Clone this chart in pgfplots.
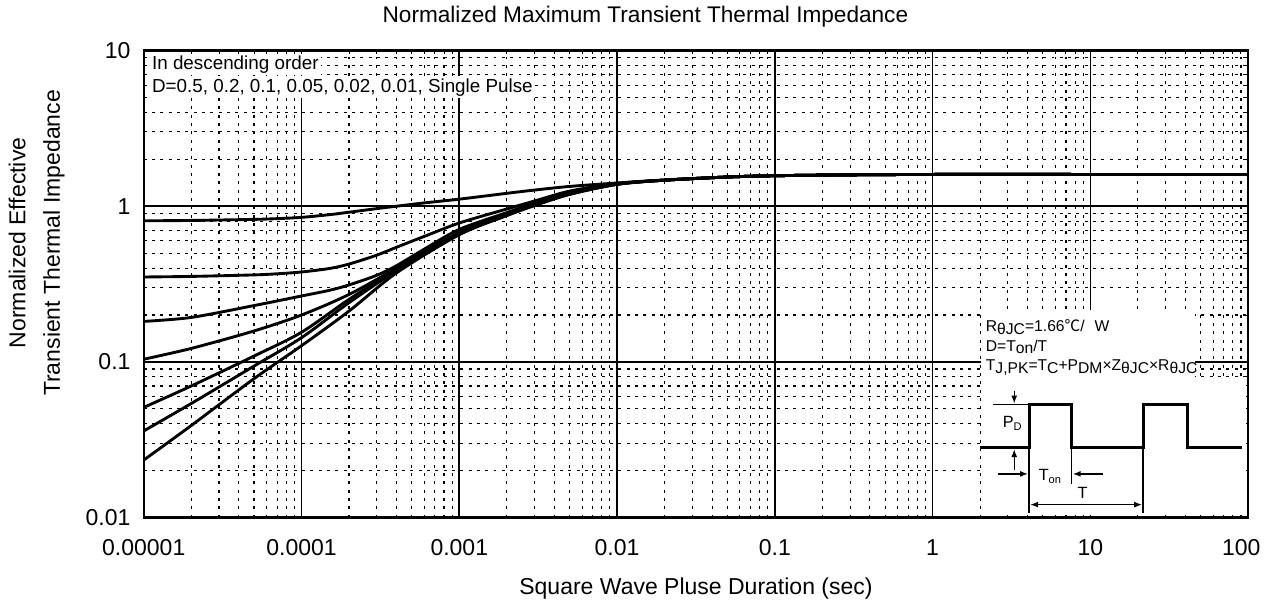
\documentclass[border=0pt]{standalone}
\usepackage{pgfplots}
\pgfplotsset{compat=1.18}
\usepackage{graphicx}
\usepackage{fontspec}
\setmainfont{Liberation Sans}
\newfontfamily\cjk{Noto Sans CJK SC}
\usetikzlibrary{arrows.meta}
\newcommand{\sx}[1]{\raisebox{-1.3pt}{#1}}
\begin{document}
\begin{tikzpicture}
\begin{scope}[x=0.5pt,y=-0.5pt]
\useasboundingbox (0,0) rectangle (1274,614);
\end{scope}
\begin{axis}[
  at={(72.5pt,-261pt)}, anchor=south west,
  scale only axis, width=557pt, height=235.5pt,
  xmode=log, ymode=log,
  xmin=1e-5, xmax=100, ymin=0.01, ymax=10,
  xtick={1e-5,1e-4,1e-3,1e-2,1e-1,1,10,100},
  xticklabels={0.00001,0.0001,0.001,0.01,0.1,1,10,{\kern-3.5pt 100\kern3.5pt}},
  ytick={0.01,0.1,1,10},
  yticklabels={0.01,0.1,1,10},
  minor xtick={2e-5,3e-5,4e-5,5e-5,6e-5,7e-5,8e-5,9e-5,
    2e-4,3e-4,4e-4,5e-4,6e-4,7e-4,8e-4,9e-4,
    0.002,0.003,0.004,0.005,0.006,0.007,0.008,0.009,
    0.02,0.03,0.04,0.05,0.06,0.07,0.08,0.09,
    0.2,0.3,0.4,0.5,0.6,0.7,0.8,0.9,
    2,3,4,5,6,7,8,9,20,30,40,50,60,70,80,90},
  minor ytick={0.02,0.03,0.04,0.05,0.06,0.07,0.08,0.09,
    0.2,0.3,0.4,0.5,0.6,0.7,0.8,0.9,2,3,4,5,6,7,8,9},
  grid=both,
  major grid style={black, line width=0.85pt},
  minor grid style={black, line width=0.55pt, dash pattern=on 1.5pt off 2.7pt},
  axis line style={black, line width=1.2pt},
  tick style={black, line width=0.5pt},
  major tick length=2.5pt, minor tick length=1.5pt,
  tick align=inside,
  ticklabel style={font=\fontsize{11.6}{13}\selectfont},
  xticklabel style={anchor=center, yshift=-15pt},
  yticklabel style={anchor=east, inner sep=0pt, xshift=-6.5pt},
  zth/.style={black, solid, line width=1.45pt, smooth, no markers},
]
% Single pulse
\addplot[zth] coordinates {(1e-5,0.0234) (2e-5,0.039) (5e-5,0.078) (1e-4,0.127) (2e-4,0.212) (4e-4,0.373) (1e-3,0.656) (2e-3,0.87) (3e-3,1.01) (5e-3,1.19) (1e-2,1.38) (2e-2,1.47) (5e-2,1.54) (0.1,1.57) (0.3,1.59) (1,1.6) (10,1.6) (100,1.6)};
% D=0.01
\addplot[zth] coordinates {(1e-5,0.036) (2e-5,0.054) (5e-5,0.094) (1e-4,0.143) (2e-4,0.24) (4e-4,0.385) (1e-3,0.662) (2e-3,0.875) (3e-3,1.015) (5e-3,1.195) (1e-2,1.385) (2e-2,1.47) (5e-2,1.54) (0.1,1.57) (0.3,1.59) (1,1.6) (10,1.6) (100,1.6)};
% D=0.02
\addplot[zth] coordinates {(1e-5,0.051) (2e-5,0.07) (5e-5,0.109) (1e-4,0.155) (2e-4,0.252) (4e-4,0.39) (1e-3,0.667) (2e-3,0.88) (3e-3,1.02) (5e-3,1.2) (1e-2,1.385) (2e-2,1.47) (5e-2,1.54) (0.1,1.57) (0.3,1.59) (1,1.6) (10,1.6) (100,1.6)};
% D=0.05
\addplot[zth] coordinates {(1e-5,0.104) (2e-5,0.122) (5e-5,0.158) (1e-4,0.2) (2e-4,0.271) (4e-4,0.40) (1e-3,0.68) (2e-3,0.89) (3e-3,1.03) (5e-3,1.21) (1e-2,1.39) (2e-2,1.47) (5e-2,1.54) (0.1,1.57) (0.3,1.59) (1,1.6) (10,1.6) (100,1.6)};
% D=0.1
\addplot[zth] coordinates {(1e-5,0.182) (2e-5,0.193) (5e-5,0.23) (1e-4,0.265) (1.5e-4,0.288) (2e-4,0.312) (3e-4,0.36) (4e-4,0.415) (6e-4,0.53) (1e-3,0.71) (2e-3,0.91) (3e-3,1.05) (5e-3,1.22) (1e-2,1.39) (2e-2,1.47) (5e-2,1.54) (0.1,1.57) (0.3,1.59) (1,1.6) (10,1.6) (100,1.6)};
% D=0.2
\addplot[zth] coordinates {(1e-5,0.351) (2e-5,0.354) (5e-5,0.362) (7e-5,0.368) (1e-4,0.378) (1.5e-4,0.398) (2e-4,0.425) (3e-4,0.485) (4e-4,0.545) (6e-4,0.64) (1e-3,0.78) (2e-3,0.96) (3e-3,1.08) (5e-3,1.25) (1e-2,1.40) (2e-2,1.47) (5e-2,1.54) (0.1,1.57) (0.3,1.59) (1,1.6) (10,1.6) (100,1.6)};
% D=0.5
\addplot[zth] coordinates {(1e-5,0.806) (2e-5,0.81) (5e-5,0.823) (7e-5,0.832) (1e-4,0.848) (1.5e-4,0.882) (2e-4,0.915) (3e-4,0.965) (4e-4,1.0) (6e-4,1.05) (1e-3,1.11) (2e-3,1.21) (3e-3,1.27) (5e-3,1.34) (1e-2,1.41) (2e-2,1.475) (5e-2,1.54) (0.1,1.57) (0.3,1.59) (1,1.6) (10,1.6) (100,1.6)};
\end{axis}
\begin{scope}[x=0.5pt,y=-0.5pt]
% title and labels
\node[anchor=base, inner sep=0pt, font=\fontsize{11.4}{13}\selectfont] at (651,23) {Normalized Maximum Transient Thermal Impedance};
\node[anchor=base, inner sep=0pt, font=\fontsize{11.6}{13}\selectfont] at (702,600) {Square Wave Pluse Duration (sec)};
\node[rotate=90, align=center, inner sep=0pt, font=\fontsize{11.6}{17.5}\selectfont] at (37,245) {Normalized Effective\\Transient Thermal Impedance};
% top-left note
\node[anchor=west, fill=white, inner sep=1pt, font=\fontsize{9.5}{11}\selectfont] at (151,65) {In descending order};
\node[anchor=west, fill=white, inner sep=1pt, font=\fontsize{9.5}{11}\selectfont] at (151,88) {D=0.5, 0.2, 0.1, 0.05, 0.02, 0.01, Single Pulse};
% inset boxes
\fill[white] (989.5,313) rectangle (1205,381);
\fill[white] (989.5,380) rectangle (1257,519);
\begin{scope}[font=\fontsize{7.9}{9}\selectfont]
\node[anchor=west, inner sep=0pt] at (994,330) {R\sx{θJC}=1.66{\cjk ℃}/\hspace{5pt}W};
\node[anchor=west, inner sep=0pt] at (994,350) {D=T\sx{on}/T};
\node[anchor=west, inner sep=0pt] at (994,371) {T\sx{J,PK}=T\sx{C}+P\sx{DM}×Z\sx{θJC}×R\sx{θJC}};
\end{scope}
% pulse waveform
\draw[line width=1.6pt, line join=miter] (988,451) -- (1038,451) -- (1038,408) -- (1081,408) -- (1081,451) -- (1153,451) -- (1153,408) -- (1198,408) -- (1198,451) -- (1253,451);
\begin{scope}[line width=0.7pt, >={Latex[length=4pt,width=3pt]}]
\draw (1002,408) -- (1038,408);
\draw[->] (1023,394) -- (1023,407);
\draw[->] (1023,474) -- (1023,453);
\draw (1038,451) -- (1038,517);
\draw (1081,451) -- (1081,488);
\draw (1153,451) -- (1153,517);
\draw[->] (1007,478) -- (1037,478);
\draw[->] (1113,478) -- (1082,478);
\draw[<->] (1039,509) -- (1152,509);
\end{scope}
\node[inner sep=0pt, font=\fontsize{8.2}{9}\selectfont] at (1021,427) {P\raisebox{-1.5pt}{\fontsize{5.6}{6}\selectfont D}};
\node[inner sep=0pt, font=\fontsize{8.2}{9}\selectfont] at (1059,481) {T\raisebox{-1.5pt}{\fontsize{5.6}{6}\selectfont on}};
\node[inner sep=0pt, font=\fontsize{8.2}{9}\selectfont] at (1092,497) {T};
\end{scope}
\end{tikzpicture}
\end{document}
